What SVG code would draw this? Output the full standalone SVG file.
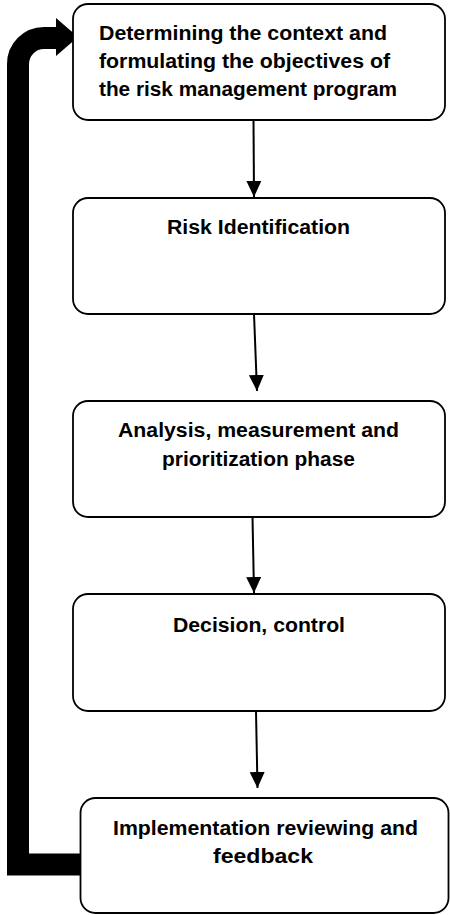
<svg xmlns="http://www.w3.org/2000/svg" width="450" height="915" viewBox="0 0 450 915">
<defs>
<style>
.box{fill:#fff;stroke:#000;stroke-width:1.8}
.t{font-family:"Liberation Sans",Arial,sans-serif;font-weight:bold;font-size:20px;fill:#000}
.c{text-anchor:middle}
.conn{stroke:#000;stroke-width:2;fill:none}
</style>
<marker id="ah" markerUnits="userSpaceOnUse" markerWidth="16" markerHeight="16" refX="16" refY="7.5" orient="auto">
<path d="M0,0 L16,7.5 L0,15 z" fill="#000"/>
</marker>
</defs>
<g id="connectors">
<line class="conn" x1="253.5" y1="120" x2="254" y2="197" marker-end="url(#ah)"/>
<line class="conn" x1="254" y1="314" x2="257" y2="391" marker-end="url(#ah)"/>
<line class="conn" x1="252.5" y1="517" x2="254" y2="593" marker-end="url(#ah)"/>
<line class="conn" x1="256" y1="711" x2="257.5" y2="788" marker-end="url(#ah)"/>
<g id="feedback">
<path d="M80 864.5 H18 V64 A26 26 0 0 1 44 38 H58" fill="none" stroke="#000" stroke-width="22" stroke-linejoin="miter"/>
<polygon points="56,18 78,37 56,56" fill="#000"/>
</g>
</g>
<g id="n1">
<rect class="box" x="73" y="4" width="372" height="116" rx="15"/>
<text class="t" x="99" y="40" textLength="288" lengthAdjust="spacingAndGlyphs">Determining the context and</text>
<text class="t" x="99" y="68" textLength="291" lengthAdjust="spacingAndGlyphs">formulating the objectives of</text>
<text class="t" x="99" y="96" textLength="298" lengthAdjust="spacingAndGlyphs">the risk management program</text>
</g>
<g id="n2">
<rect class="box" x="73" y="198" width="372" height="116" rx="15"/>
<text class="t c" x="258.5" y="234" textLength="183" lengthAdjust="spacingAndGlyphs">Risk Identification</text>
</g>
<g id="n3">
<rect class="box" x="73" y="401" width="372" height="116" rx="15"/>
<text class="t c" x="258.5" y="437" textLength="281" lengthAdjust="spacingAndGlyphs">Analysis, measurement and</text>
<text class="t c" x="258.5" y="466" textLength="193" lengthAdjust="spacingAndGlyphs">prioritization phase</text>
</g>
<g id="n4">
<rect class="box" x="73" y="594" width="372" height="117" rx="15"/>
<text class="t c" x="259" y="632" textLength="172" lengthAdjust="spacingAndGlyphs">Decision, control</text>
</g>
<g id="n5">
<rect class="box" x="80.5" y="798" width="368" height="115" rx="15"/>
<text class="t c" x="265.5" y="835" textLength="305" lengthAdjust="spacingAndGlyphs">Implementation reviewing and</text>
<text class="t c" x="263" y="863" textLength="100" lengthAdjust="spacingAndGlyphs">feedback</text>
</g>
</svg>
